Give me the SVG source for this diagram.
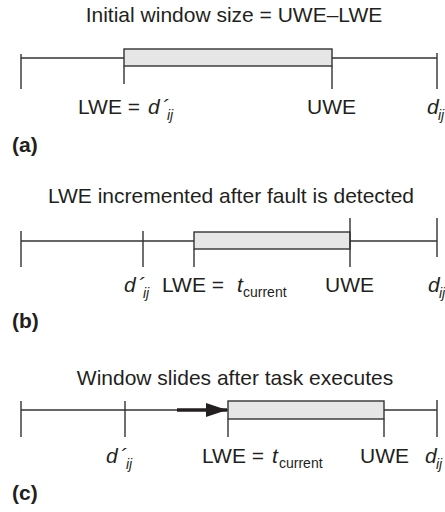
<svg xmlns="http://www.w3.org/2000/svg" width="445" height="512" viewBox="0 0 445 512">
<style>
text{font-family:"Liberation Sans",Arial,sans-serif;font-size:21px;fill:#231f20}
.i{font-style:italic}
.sub{font-size:14px}
.b{font-weight:bold}
.ln{stroke:#333;stroke-width:1.4;fill:none}
.win{fill:#e6e6e6;stroke:#333;stroke-width:1.4}
</style>
<defs>
<marker id="ah" markerWidth="6" markerHeight="4" refX="6" refY="2" orient="auto" markerUnits="strokeWidth">
<path d="M0,0 L6,2 L0,4 Z" fill="#231f20"/>
</marker>
</defs>
<rect width="445" height="512" fill="#fff"/>

<g id="panel-a">
<text x="234" y="22" text-anchor="middle">Initial window size = UWE–LWE</text>
<line class="ln" x1="21" y1="58" x2="437" y2="58"/>
<line class="ln" x1="21" y1="54" x2="21" y2="89"/>
<line class="ln" x1="437" y1="53" x2="437" y2="89"/>
<rect class="win" x="124" y="49" width="208" height="17"/>
<line class="ln" x1="124" y1="66" x2="124" y2="84"/>
<line class="ln" x1="332" y1="66" x2="332" y2="89"/>
<text x="78" y="114">LWE = <tspan x="148" class="i">d</tspan><tspan x="162" class="i">´</tspan><tspan x="167" dy="6" class="i sub">ij</tspan></text>
<text x="307" y="114">UWE</text>
<text x="427" y="114"><tspan class="i">d</tspan><tspan x="438" dy="6" class="i sub">ij</tspan></text>
<text x="12" y="152" class="b">(a)</text>
</g>

<g id="panel-b">
<text x="231" y="203" text-anchor="middle">LWE incremented after fault is detected</text>
<line class="ln" x1="21" y1="241" x2="437" y2="241"/>
<line class="ln" x1="21" y1="231" x2="21" y2="267"/>
<line class="ln" x1="143" y1="231" x2="143" y2="267"/>
<rect class="win" x="194" y="232" width="156" height="17"/>
<line class="ln" x1="194" y1="249" x2="194" y2="267"/>
<line class="ln" x1="350" y1="218" x2="350" y2="267"/>
<line class="ln" x1="437" y1="218" x2="437" y2="257"/>
<text x="124" y="292"><tspan class="i">d</tspan><tspan x="138" class="i">´</tspan><tspan x="143" dy="6" class="i sub">ij</tspan></text>
<text x="162" y="292">LWE = <tspan x="237" class="i">t</tspan><tspan x="243" dy="5" class="sub">current</tspan></text>
<text x="325" y="292">UWE</text>
<text x="428" y="292"><tspan class="i">d</tspan><tspan x="439" dy="6" class="i sub">ij</tspan></text>
<text x="12" y="328" class="b">(b)</text>
</g>

<g id="panel-c">
<text x="235" y="385" text-anchor="middle">Window slides after task executes</text>
<line class="ln" x1="21" y1="410" x2="437" y2="410"/>
<line class="ln" x1="21" y1="401" x2="21" y2="437"/>
<line class="ln" x1="125" y1="401" x2="125" y2="437"/>
<rect class="win" x="228" y="401" width="156" height="18"/>
<line class="ln" x1="228" y1="419" x2="228" y2="437"/>
<line class="ln" x1="384" y1="419" x2="384" y2="437"/>
<line class="ln" x1="437" y1="400" x2="437" y2="437"/>
<text x="106" y="463"><tspan class="i">d</tspan><tspan x="120" class="i">´</tspan><tspan x="126" dy="6" class="i sub">ij</tspan></text>
<text x="202" y="463">LWE = <tspan x="272" class="i">t</tspan><tspan x="279" dy="5" class="sub">current</tspan></text>
<text x="360" y="463">UWE</text>
<text x="425" y="463"><tspan class="i">d</tspan><tspan x="436" dy="6" class="i sub">ij</tspan></text>
<text x="12" y="500" class="b">(c)</text>
</g>

<g id="connectors">
<line x1="177" y1="410" x2="227" y2="410" stroke="#231f20" stroke-width="3.5" marker-end="url(#ah)"/>
</g>
</svg>
